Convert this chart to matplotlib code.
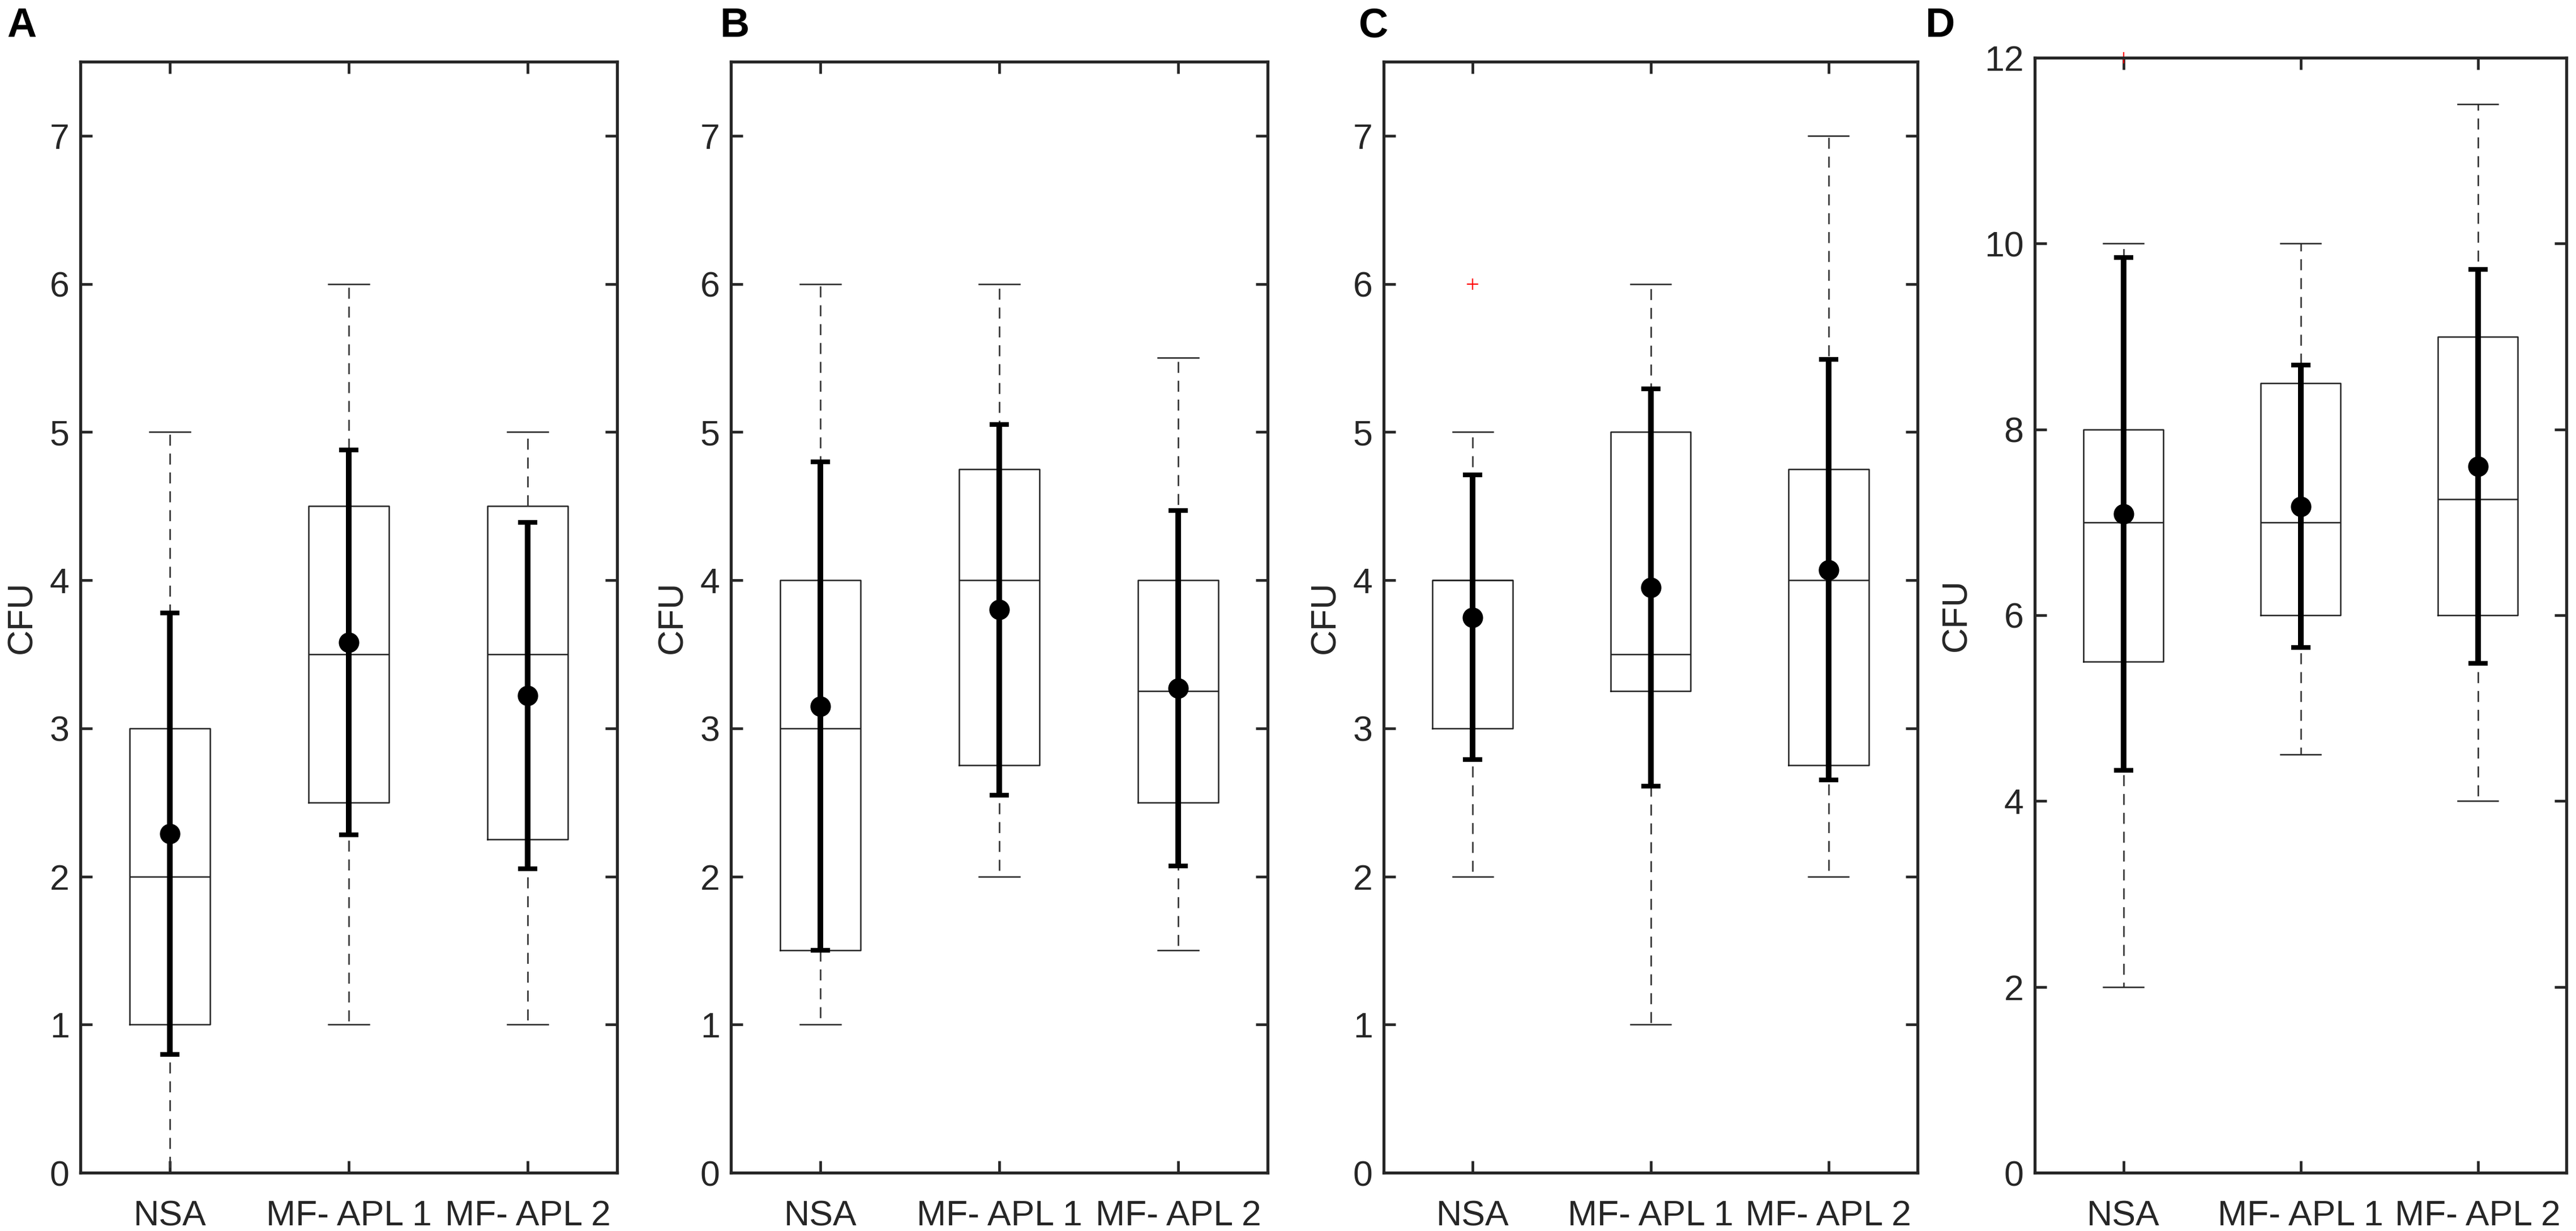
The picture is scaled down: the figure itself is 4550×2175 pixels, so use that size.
import matplotlib
matplotlib.use("Agg")
import matplotlib.pyplot as plt

plt.rcParams["font.family"] = ["Liberation Sans", "DejaVu Sans"]

categories = ["NSA", "MF- APL 1", "MF- APL 2"]
panel_letters = ["A", "B", "C", "D"]

# box statistics per panel (NSA, MF-APL 1, MF-APL 2)
whisker_low = [[0, 1, 1], [1, 2, 1.5], [2, 1, 2], [2, 4.5, 4]]
q1 = [[1, 2.5, 2.25], [1.5, 2.75, 2.5], [3, 3.25, 2.75], [5.5, 6, 6]]
median = [[2, 3.5, 3.5], [3, 4, 3.25], [4, 3.5, 4], [7, 7, 7.25]]
q3 = [[3, 4.5, 4.5], [4, 4.75, 4], [4, 5, 4.75], [8, 8.5, 9]]
whisker_high = [[5, 6, 5], [6, 6, 5.5], [5, 6, 7], [10, 10, 11.5]]
outliers = [[[], [], []], [[], [], []], [[6], [], []], [[12], [], []]]

# mean +/- SD overlay
means = [[2.29, 3.58, 3.22], [3.15, 3.80, 3.27], [3.75, 3.95, 4.07], [7.09, 7.17, 7.60]]
sds = [[1.49, 1.30, 1.17], [1.65, 1.25, 1.20], [0.96, 1.34, 1.42], [2.76, 1.52, 2.12]]

y_max = [7.5, 7.5, 7.5, 12]
y_ticks = [range(0, 8), range(0, 8), range(0, 8), range(0, 13, 2)]

W, H = 4550, 2175
axes_px = [(142, 948, 109), (1291, 948, 109), (2444, 943, 109), (3594, 939, 102)]
letter_px = [12, 1271, 2400, 3400]
bottom_px = 2072

fig = plt.figure(figsize=(W / 200, H / 200), dpi=200)
ink = "#262626"

for i in range(4):
    left, width, top = axes_px[i]
    ax = fig.add_axes([left / W, 1 - bottom_px / H, width / W, (bottom_px - top) / H])

    stats = []
    for j, cat in enumerate(categories):
        stats.append({
            "label": cat,
            "whislo": whisker_low[i][j],
            "q1": q1[i][j],
            "med": median[i][j],
            "q3": q3[i][j],
            "whishi": whisker_high[i][j],
            "fliers": outliers[i][j],
        })

    ax.bxp(stats, positions=[1, 2, 3], widths=0.45, capwidths=0.225,
           showfliers=True,
           boxprops=dict(color="#222222", linewidth=0.9),
           medianprops=dict(color="#222222", linewidth=0.9),
           whiskerprops=dict(color="#3a3a3a", linewidth=1.0, linestyle=(0, (7, 5))),
           capprops=dict(color="#222222", linewidth=0.9),
           flierprops=dict(marker="+", markeredgecolor="red", markersize=7,
                           markeredgewidth=0.8, linestyle="none"))

    ax.errorbar([1, 2, 3], means[i], yerr=sds[i], fmt="o", color="black",
                markersize=12, elinewidth=3.6, capsize=6, capthick=3, zorder=5)

    for line in ax.lines:
        line.set_clip_on(False)

    ax.set_xlim(0.5, 3.5)
    ax.set_ylim(0, y_max[i])
    ax.set_yticks(list(y_ticks[i]))
    ax.set_xticks([1, 2, 3], categories)
    ax.tick_params(direction="in", length=7.5, width=1.7, colors=ink,
                   labelsize=22.5, top=True, right=True, labelcolor="#262626")
    ax.tick_params(axis="x", pad=17)
    ax.tick_params(axis="y", pad=7)
    for s in ax.spines.values():
        s.set_linewidth(1.9)
        s.set_color(ink)
    ax.set_ylabel("CFU", fontsize=22.5, color=ink, labelpad=7)

    fig.text(letter_px[i] / W, 1 - 12 / H, panel_letters[i], fontsize=26,
             fontweight="bold", va="top", ha="left")

fig.savefig("out.png", dpi=200, facecolor="white")
